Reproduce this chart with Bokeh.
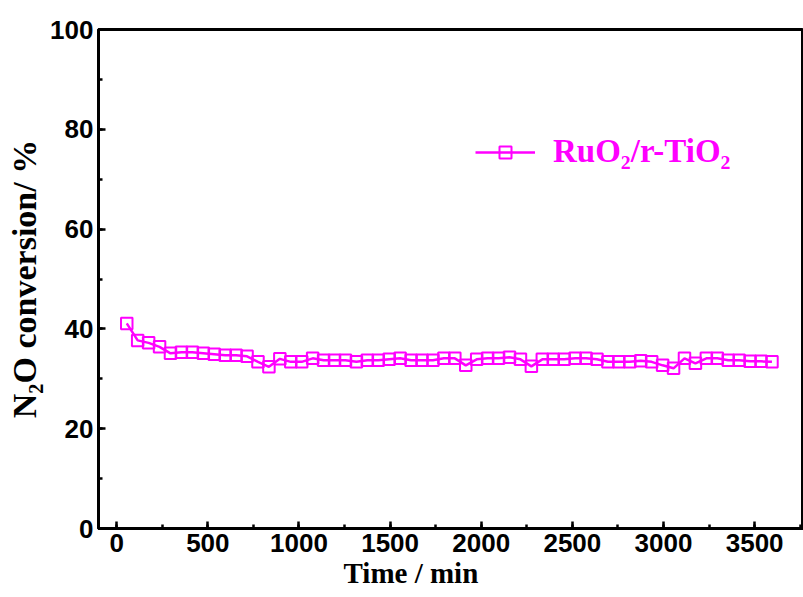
from bokeh.plotting import figure
from bokeh.models import SingleIntervalTicker, Range1d, Legend, LegendItem, ColumnDataSource, Title
from bokeh.embed import file_html
from bokeh.resources import INLINE

# ---- data ----
time_min = [55, 115, 175, 235, 295, 355, 415, 475, 535, 595,
            655, 715, 775, 835, 895, 955, 1015, 1075, 1135, 1195,
            1255, 1315, 1375, 1435, 1495, 1555, 1615, 1675, 1735, 1795,
            1855, 1915, 1975, 2035, 2095, 2155, 2215, 2275, 2335, 2395,
            2455, 2515, 2575, 2635, 2695, 2755, 2815, 2875, 2935, 2995,
            3055, 3115, 3175, 3235, 3295, 3355, 3415, 3475, 3535, 3595]
conversion = [41.1, 37.7, 37.2, 36.4, 35.1, 35.3, 35.3, 35.1, 34.9, 34.7,
              34.7, 34.5, 33.4, 32.4, 34.0, 33.4, 33.4, 34.1, 33.7, 33.7,
              33.7, 33.4, 33.7, 33.7, 33.9, 34.1, 33.7, 33.7, 33.7, 34.1,
              34.1, 32.7, 33.9, 34.1, 34.1, 34.3, 33.9, 32.5, 33.9, 33.9,
              33.9, 34.1, 34.1, 33.9, 33.4, 33.4, 33.4, 33.6, 33.4, 32.7,
              32.1, 34.1, 33.1, 34.1, 34.1, 33.7, 33.7, 33.5, 33.5, 33.4]
series_name = "RuO\u2082/r-TiO\u2082"
x_title = "Time / min"
y_title = "N\u2082O conversion/ %"

MAGENTA = "#FF00FF"

p = figure(width=803, height=597, output_backend="svg", toolbar_location=None,
           x_range=Range1d(-100, 3768), y_range=Range1d(0, 100),
           min_border_left=98, min_border_right=0, min_border_top=29, min_border_bottom=69)

src = ColumnDataSource(dict(t=time_min, c=conversion))
ln = p.line("t", "c", source=src, line_color=MAGENTA, line_width=2.5)
sq = p.scatter("t", "c", source=src, marker="square", size=11.5,
               line_color=MAGENTA, line_width=2, fill_alpha=0)

legend = Legend(items=[LegendItem(label=series_name, renderers=[ln, sq])],
                location=(377, 358), orientation="vertical",
                padding=0, margin=0, border_line_alpha=0, background_fill_alpha=0,
                glyph_width=60, glyph_height=30, label_standoff=18,
                label_text_font="Liberation Serif", label_text_font_style="bold",
                label_text_font_size="33px", label_text_color=MAGENTA,
                label_text_baseline="middle")
p.add_layout(legend)

p.grid.visible = False
p.outline_line_color = "black"
p.outline_line_width = 3
p.background_fill_color = "white"
p.border_fill_color = "white"

p.xaxis.ticker = SingleIntervalTicker(interval=500, num_minor_ticks=2)
p.yaxis.ticker = SingleIntervalTicker(interval=20, num_minor_ticks=2)

for ax in (p.xaxis[0], p.yaxis[0]):
    ax.axis_line_width = 3
    ax.axis_line_color = "black"
    ax.major_tick_in = 7
    ax.major_tick_out = 0
    ax.minor_tick_in = 4
    ax.minor_tick_out = 0
    ax.major_tick_line_width = 2.5
    ax.minor_tick_line_width = 2.5
    ax.major_label_text_font = "Liberation Sans"
    ax.major_label_text_font_style = "bold"
    ax.major_label_text_font_size = "26px"
    ax.major_label_text_color = "black"
    ax.major_label_standoff = 5
    ax.axis_label_text_font = "Liberation Serif"
    ax.axis_label_text_font_style = "bold"
    ax.axis_label_text_color = "black"

# x title sits left of the frame centre, as in the reference
xt = Title(text=x_title, align="left", offset=245,
           text_font="Liberation Serif", text_font_style="bold",
           text_font_size="29px", text_color="black", standoff=0)
p.add_layout(xt, "below")

p.yaxis.axis_label = y_title
p.yaxis.axis_label_text_font_size = "34px"
p.yaxis.axis_label_standoff = 4

open("out.html", "w").write(file_html(p, INLINE))
